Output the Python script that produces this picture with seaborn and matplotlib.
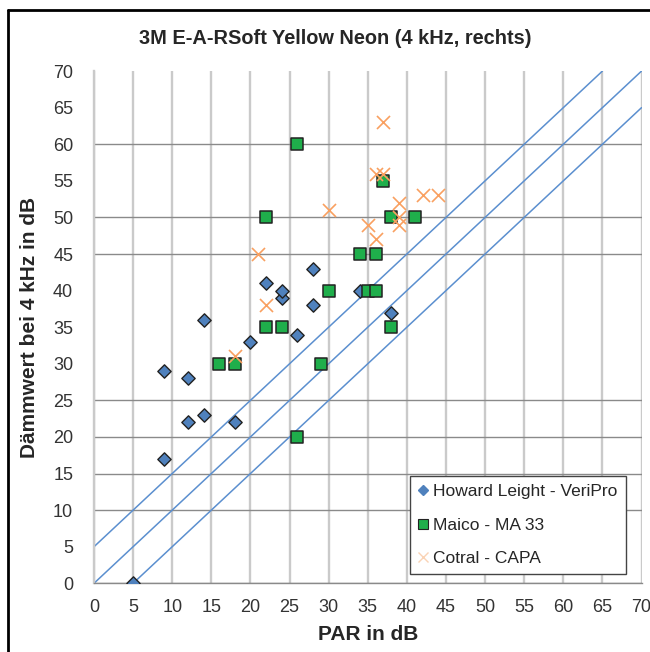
import matplotlib
matplotlib.use("Agg")
import matplotlib.pyplot as plt
import seaborn as sns
import pandas as pd
from matplotlib.lines import Line2D

# ---------------- data ----------------
howard_par = [5, 9, 9, 12, 12, 14, 14, 18, 20, 22, 24, 24, 26, 28, 28, 34, 38]
howard_val = [0, 17, 29, 22, 28, 23, 36, 22, 33, 41, 39, 40, 34, 38, 43, 40, 37]

maico_par = [16, 18, 22, 22, 24, 26, 26, 29, 30, 34, 35, 36, 36, 37, 38, 38, 41]
maico_val = [30, 30, 35, 50, 35, 20, 60, 30, 40, 45, 40, 40, 45, 55, 35, 50, 50]

cotral_par = [18, 21, 22, 30, 35, 36, 36, 37, 37, 39, 39, 39, 42, 44]
cotral_val = [31, 45, 38, 51, 49, 47, 56, 56, 63, 49, 50, 52, 53, 53]

series_names = ["Howard Leight - VeriPro", "Maico - MA 33", "Cotral - CAPA"]
line_offsets = [5, 0, -5]
tick_values = list(range(0, 75, 5))
hgrid_values = [10, 15, 20, 25, 45, 50, 60]

title = "3M E-A-RSoft Yellow Neon (4 kHz, rechts)"
xlabel = "PAR in dB"
ylabel = "Dämmwert bei 4 kHz in dB"

df_h = pd.DataFrame({"PAR": howard_par, "val": howard_val})
df_m = pd.DataFrame({"PAR": maico_par, "val": maico_val})
df_c = pd.DataFrame({"PAR": cotral_par, "val": cotral_val})

# ---------------- style ----------------
sns.set_style("white")
plt.rcParams["font.family"] = ["Liberation Sans", "DejaVu Sans"]

blue = "#4F81BD"
green = "#1FAE4B"
orange = "#F9A060"
line_blue = "#5B8FCF"

fig = plt.figure(figsize=(6.5, 6.52), dpi=100)
ax = fig.add_axes([94 / 650, 1 - 583.3 / 652, (641.5 - 94) / 650, (583.3 - 71.1) / 652])

# reference lines y = x + c
for c in line_offsets:
    ax.axline((0, c), slope=1, color=line_blue, lw=1.1, zorder=2)

sns.scatterplot(data=df_h, x="PAR", y="val", marker="D", s=46, color=blue,
                edgecolor="#222222", linewidth=1.0, ax=ax, zorder=3, legend=False)
sns.scatterplot(data=df_m, x="PAR", y="val", marker="s", s=76, color=green,
                edgecolor="#222222", linewidth=1.1, ax=ax, zorder=4, legend=False)
sns.scatterplot(data=df_c, x="PAR", y="val", marker="x", s=88, color=orange,
                linewidth=1.2, ax=ax, zorder=5, legend=False)

ax.set_xlim(0, 70)
ax.set_ylim(0, 70)

ax.set_xticks(tick_values)
ax.set_yticks(tick_values)
ax.set_yticks(hgrid_values + [0], minor=True)
ax.yaxis.remove_overlapping_locs = False

ax.grid(False)
ax.xaxis.grid(True, which="major", color="#CACACA", lw=1.7, zorder=0)
ax.yaxis.grid(True, which="minor", color="#8A8A8A", lw=1.0, zorder=0)
ax.set_axisbelow(True)

ax.tick_params(axis="x", which="major", length=5, width=1.2, color="#CACACA",
               direction="out", pad=6, labelsize=13, labelcolor="#333333")
ax.tick_params(axis="y", which="major", length=0, pad=15, labelsize=13,
               labelcolor="#333333")
ax.tick_params(axis="y", which="minor", length=6, width=1.0, color="#8A8A8A",
               direction="out")

for side in ["top", "right"]:
    ax.spines[side].set_visible(False)
ax.spines["left"].set_color("#CACACA")
ax.spines["left"].set_linewidth(1.7)
ax.spines["bottom"].set_color("#8A8A8A")
ax.spines["bottom"].set_linewidth(1.0)

ax.set_xlabel(xlabel, fontsize=15, fontweight="bold", labelpad=7)
ax.set_ylabel(ylabel, fontsize=15, fontweight="bold", labelpad=10)
fig.text(0.516, 1 - 38 / 652, title, ha="center", va="center",
         fontsize=14.4, fontweight="bold")

handles = [
    Line2D([], [], ls="none", marker="D", markersize=5, markerfacecolor=blue,
           markeredgecolor=blue),
    Line2D([], [], ls="none", marker="s", markersize=6.5, markerfacecolor=green,
           markeredgecolor="#222222", markeredgewidth=0.8),
    Line2D([], [], ls="none", marker="x", markersize=7, color="#FAD3B5",
           markeredgewidth=1.0),
]
leg = ax.legend(handles, series_names, loc="upper left",
                bbox_to_anchor=(410 / 650, 1 - 476 / 652), bbox_transform=fig.transFigure,
                frameon=True, fancybox=False, framealpha=1, edgecolor="#444444",
                fontsize=12.5, handlelength=0.6, handletextpad=0.3,
                labelspacing=1.07, borderpad=0.45, borderaxespad=0)
leg.get_frame().set_linewidth(1.0)
leg.set_zorder(10)

# outer chart-area border (only left and top edges are inside the picture)
fig.add_artist(Line2D([8 / 650, 8 / 650], [-0.01, 1 - 10 / 652],
                      transform=fig.transFigure, color="black", lw=2.0))
fig.add_artist(Line2D([8 / 650, 1.01], [1 - 10 / 652, 1 - 10 / 652],
                      transform=fig.transFigure, color="black", lw=2.0))

fig.savefig("out.png", dpi=100)
